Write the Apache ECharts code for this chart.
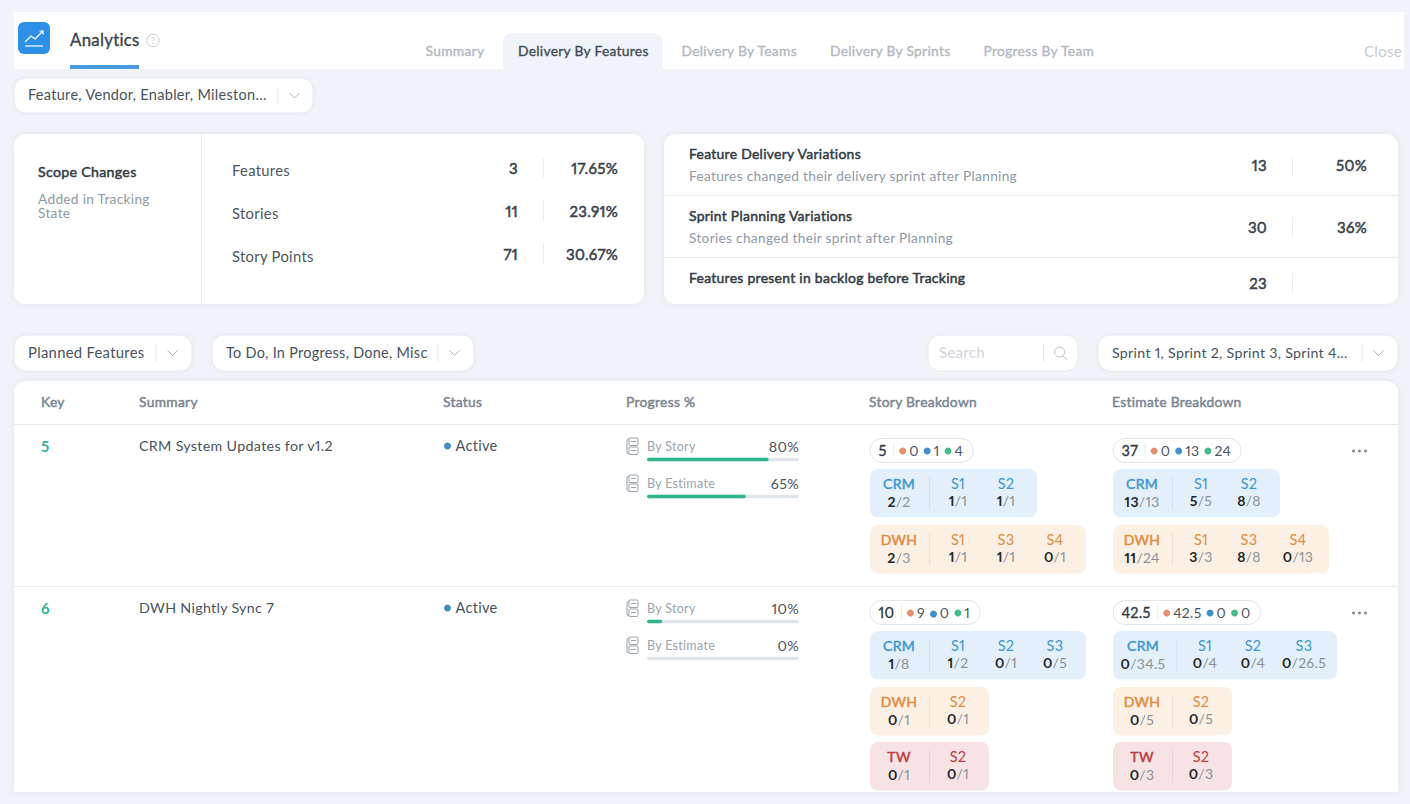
<!DOCTYPE html>
<html><head><meta charset="utf-8">
<style>
html,body{margin:0;padding:0;background:#f0f3f8}
#c{width:1410px;height:804px}
svg text{letter-spacing:.3px;font-variant-numeric:proportional-nums}
#m{position:absolute;left:0;top:0;visibility:hidden;white-space:pre;letter-spacing:.3px;font-variant-numeric:proportional-nums;font-family:Lato}
</style>
<script src="https://cdn.jsdelivr.net/npm/echarts@6/dist/echarts.min.js"></script>
</head><body><div id="c"></div><span id="m"></span>
<script>
// ---- data ----
const tabLabels = ['Summary','Delivery By Features','Delivery By Teams','Delivery By Sprints','Progress By Team'];
const scopeLabels = ['Features','Stories','Story Points'];
const scopeCounts = ['3','11','71'];
const scopePercents = ['17.65%','23.91%','30.67%'];
const variationTitles = ['Feature Delivery Variations','Sprint Planning Variations','Features present in backlog before Tracking'];
const variationNotes = ['Features changed their delivery sprint after Planning','Stories changed their sprint after Planning',''];
const variationCounts = ['13','30','23'];
const variationPercents = ['50%','36%',''];
const columnHeaders = ['Key','Summary','Status','Progress %','Story Breakdown','Estimate Breakdown'];
const rowKeys = ['5','6'];
const rowSummaries = ['CRM System Updates for v1.2','DWH Nightly Sync 7'];
const rowStatuses = ['Active','Active'];
const progressByStory = [80,10];
const progressByEstimate = [65,0];
const storyTotals = [[5,0,1,4],[10,9,0,1]];
const estimateTotals = [[37,0,13,24],[42.5,42.5,0,0]];
const row1Story = [['CRM',2,2,['S1',1,1],['S2',1,1]],['DWH',2,3,['S1',1,1],['S3',1,1],['S4',0,1]]];
const row1Estimate = [['CRM',13,13,['S1',5,5],['S2',8,8]],['DWH',11,24,['S1',3,3],['S3',8,8],['S4',0,13]]];
const row2Story = [['CRM',1,8,['S1',1,2],['S2',0,1],['S3',0,5]],['DWH',0,1,['S2',0,1]],['TW',0,1,['S2',0,1]]];
const row2Estimate = [['CRM',0,34.5,['S1',0,4],['S2',0,4],['S3',0,26.5]],['DWH',0,5,['S2',0,5]],['TW',0,3,['S2',0,3]]];

// ---- style ----
const FONT='Lato';
const BG='#f0f3f8', MUTED='#8f99a6', LINE='#e8ebf0';
const teamStyle={CRM:['#e3f0fb','#3f97d2'],DWH:['#fcf0e5','#df8c3f'],TW:['#f7e3e4','#bf3c42']};
const DOTS=['#e59068','#3f8fc4','#46bb8b'];
const g=[];
const meas=document.getElementById('m');
function tw(s,size,weight){meas.style.fontSize=size+'px';meas.style.fontWeight=weight===700?700:400;meas.textContent=String(s);return meas.getBoundingClientRect().width}
function rect(x,y,w,h,r,fill,extra){g.push({type:'rect',shape:{x,y,width:w,height:h,r},style:Object.assign({fill},extra||{}),silent:true})}
function line(x1,y1,x2,y2,stroke,lw){g.push({type:'line',shape:{x1,y1,x2,y2},style:{stroke:stroke||LINE,lineWidth:lw||1},silent:true})}
function poly(points,stroke,lw){g.push({type:'polyline',shape:{points},style:{stroke,lineWidth:lw||1,fill:'none'},silent:true})}
function dot(cx,cy,r,fill){g.push({type:'circle',shape:{cx,cy,r},style:{fill},silent:true})}
function text(x,y,s,size,fill,weight,align){
  const st={text:String(s),x,y:y-1,fill,fontSize:size,fontFamily:FONT,fontWeight:weight===700?700:400,align:align||'left',verticalAlign:'middle'};
  if(weight===500){st.stroke=fill;st.lineWidth=.35}
  if(weight===600){st.stroke=fill;st.lineWidth=.5}
  g.push({type:'text',style:st,silent:true});
}
function chevron(cx,cy){poly([[cx-5,cy-2.5],[cx,cy+2.5],[cx+5,cy-2.5]],'#aab2bc',1)}
function dropdown(x,y,w,h,label,divX,size){
  rect(x,y,w,h,12,'#fff',{stroke:'#e6eaf0',lineWidth:1,shadowBlur:4,shadowColor:'rgba(60,80,110,0.05)'});
  text(x+14,y+h/2,label,size,'#48525d');
  line(divX,y+9,divX,y+h-9,'#e3e6eb');
  chevron(divX+16.5,y+h/2);
}
// page frame
rect(14,12,1390,57,0,'#fff');
rect(503,33,160,37,[9,9,0,0],BG);
rect(70,65,69,4,0,'#4a9be0');
rect(18,22,32,32,6,'#2e8fe6');
poly([[25,42],[31,36],[35,39],[43,31]],'#fff',1.2);
poly([[39.5,31],[43,31],[43,34.5]],'#fff',1.2);
line(25,46,43,46,'#fff',1.2);
text(70,40.5,'Analytics',16.8,'#3a434e',500);
g.push({type:'circle',shape:{cx:153,cy:40.5,r:6.2},style:{fill:'none',stroke:'#c3c9d1',lineWidth:1},silent:true});
text(153,41.5,'?',9,'#c3c9d1',400,'center');
const tabX=[425.5,518,681.5,830,983.5];
tabLabels.forEach((t,i)=>text(tabX[i],51.5,t,13.8,i===1?'#414b57':'#b2b8c1',500));
text(1402,51.5,'Close',15,'#c6cbd2',400,'right');
dropdown(14,78,299,35,'Feature, Vendor, Enabler, Mileston...',278,14.5);

// scope panel
const panelFx={shadowBlur:6,shadowColor:'rgba(60,80,110,0.06)'};
rect(14,134,630,170,12,'#fff',panelFx);
line(201.5,134,201.5,304,LINE);
text(38,172.5,'Scope Changes',14.2,'#333c47',600);
text(38,199,'Added in Tracking',13.7,MUTED);
text(38,213.5,'State',13.7,MUTED);
scopeLabels.forEach((t,i)=>{
  const y=170+i*43;
  text(232,y+.5,t,14.8,'#4c5661');
  text(518,y-1,scopeCounts[i],15,'#39424d',600,'right');
  line(543.5,y-12,543.5,y+8,LINE);
  text(618,y-1,scopePercents[i],15,'#39424d',600,'right');
});
// variation panel
rect(664,134,734,170,12,'#fff',panelFx);
line(664,195.5,1398,195.5,LINE);
line(664,257.5,1398,257.5,LINE);
const countY=[166,228,284], divY=[[157,176],[217,237],[273,293]];
variationTitles.forEach((t,i)=>{
  const y=154.5+i*62;
  text(689,y,t,13.9,'#333c47',600);
  if(variationNotes[i])text(689,y+21.5,variationNotes[i],13.7,MUTED);
  text(1267,countY[i],variationCounts[i],15,'#39424d',600,'right');
  line(1292.5,divY[i][0],1292.5,divY[i][1],LINE);
  if(variationPercents[i])text(1367,countY[i],variationPercents[i],15,'#39424d',600,'right');
});
// filters
dropdown(14,335,178,36,'Planned Features',156,14.8);
dropdown(212,335,262,36,'To Do, In Progress, Done, Misc',438,14.4);
rect(928,335,150,36,12,'#fff',{stroke:'#e6eaf0',lineWidth:1});
text(939,353,'Search',15,'#d0d5dc');
line(1043.5,344,1043.5,362,'#e3e6eb');
g.push({type:'circle',shape:{cx:1059.5,cy:352,r:5},style:{fill:'none',stroke:'#bcc3cc',lineWidth:1},silent:true});
line(1063,356,1067,360,'#bcc3cc');
dropdown(1098,335,300,36,'Sprint 1, Sprint 2, Sprint 3, Sprint 4...',1362,14.2);

// table
rect(14,381,1384,411,[12,12,0,0],'#fff',panelFx);
line(14,424.5,1398,424.5,LINE);
line(14,586.5,1398,586.5,LINE);
const colX=[41,139,443,626,869,1112];
columnHeaders.forEach((t,i)=>text(colX[i],402,t,13.8,'#7c8793',600));

function fileIcon(x,y){
  g.push({type:'rect',shape:{x:x+2.5,y:y,width:9,height:7.5,r:1},style:{fill:'none',stroke:'#9aa3ae',lineWidth:1},silent:true});
  g.push({type:'rect',shape:{x:x+2.5,y:y+9,width:9,height:7.5,r:1},style:{fill:'none',stroke:'#9aa3ae',lineWidth:1},silent:true});
  poly([[x+2.5,y+1],[x+.5,y+2],[x+.5,y+15],[x+2.5,y+16]],'#9aa3ae',1);
  line(x+4.5,y+3.5,x+9.5,y+3.5,'#9aa3ae');
  line(x+4.5,y+12.5,x+9.5,y+12.5,'#9aa3ae');
}
function pill(x,y,vals){
  const t=vals[0], wt=tw(t,14.5);
  const tx=x+8.5;
  text(tx,y+13,t,14.5,'#333c47',500);
  const dx=tx+wt+6.5;
  let cx=dx+9.5;
  line(dx+.5,y+5,dx+.5,y+19,LINE);
  vals.slice(1).forEach((v,i)=>{
    dot(cx,y+12.5,3.5,DOTS[i]);
    text(cx+6.5,y+13,v,14,'#4c5661');
    cx+=6.5+tw(v,14)+8.5;
  });
  return cx-8.5+10-x;
}
function pillBox(x,y,vals){
  const start=g.length;
  const w=pill(x,y,vals);
  const added=g.splice(start);
  rect(x,y,w,24,12,'#fff',{stroke:'#e1e5ea',lineWidth:1});
  added.forEach(a=>g.push(a));
}
function ratio(cx,y,a,b){
  const wa=tw(a,14,700), wb=tw('/'+b,14);
  const x=cx-(wa+wb)/2;
  text(x,y,a,14,'#23282e',700);
  text(x+wa,y,'/'+b,14,'#8c9197');
}
function chip(x,y,c,lay){
  const st=teamStyle[c[0]], sprints=c.slice(3);
  const L=lay||{w:[0,119,167,216][sprints.length],lab:29,div:59.5,cols:[88,136,185]};
  rect(x,y,L.w,48.5,8,st[0]);
  text(x+L.lab,y+15,c[0],14,st[1],600,'center');
  ratio(x+L.lab,y+33.5,c[1],c[2]);
  line(x+L.div,y+8,x+L.div,y+41,'rgba(120,130,140,0.14)');
  sprints.forEach((s,i)=>{
    text(x+L.cols[i],y+15,s[0],14.5,st[1],400,'center');
    ratio(x+L.cols[i],y+32.5,s[1],s[2]);
  });
}
const rowTop=[424.5,586.5];
const wideEstimate={w:224,lab:30,div:64,cols:[92,140,191]};
const chipTops=[[469,525],[631,687,742]];
[[row1Story,row1Estimate],[row2Story,row2Estimate]].forEach((pair,r)=>{
  const y0=rowTop[r], y=y0+22;
  text(41,y,rowKeys[r],15,'#35b39a',700);
  text(139,y,rowSummaries[r],14.3,'#4a535e');
  dot(447.5,y-.5,3.5,'#3f8fc4');
  text(455.5,y,rowStatuses[r],14.5,'#4a535e');
  fileIcon(626.5,y-8.5);
  fileIcon(626.5,y+28.5);
  text(647,y+1,'By Story',12.5,'#9aa3ae');
  text(647,y+38,'By Estimate',12.5,'#9aa3ae');
  text(799,y+1,progressByStory[r]+'%',14.3,'#4a535e',400,'right');
  text(799,y+38,progressByEstimate[r]+'%',14.3,'#4a535e',400,'right');
  pillBox(870,y0+14,storyTotals[r]);
  pillBox(1113,y0+14,estimateTotals[r]);
  pair[0].forEach((c,i)=>chip(870,chipTops[r][i],c));
  pair[1].forEach((c,i)=>chip(1113,chipTops[r][i],c,(r===1&&i===0)?wideEstimate:null));
  [0,1,2].forEach(k=>dot(1353.5+k*6,y0+26.5,1.5,'#7f8994'));
});
meas.remove();

// progress bars drawn by the library's scales
const barTops=[457.8,494.8,619.8,656.8];
const barVals=[progressByStory[0],progressByEstimate[0],progressByStory[1],progressByEstimate[1]];
const grids=barTops.map(t=>({left:647,top:t,width:152,height:3.4,containLabel:false}));
const xAxes=barTops.map((_,i)=>({type:'value',gridIndex:i,min:0,max:100,show:false}));
const yAxes=barTops.map((_,i)=>({type:'category',gridIndex:i,data:['p'],show:false}));
const series=barVals.map((v,i)=>({type:'bar',xAxisIndex:i,yAxisIndex:i,data:[v],barWidth:3.4,z:20,silent:true,
  itemStyle:{color:'#2fb48e',borderRadius:2},showBackground:true,backgroundStyle:{color:'#e0e5eb',borderRadius:2}}));

const chart=echarts.init(document.getElementById('c'),null,{renderer:'svg',width:1410,height:804});
chart.setOption({animation:false,backgroundColor:BG,tooltip:{show:false},grid:grids,xAxis:xAxes,yAxis:yAxes,series,graphic:{elements:g}});
</script></body></html>
